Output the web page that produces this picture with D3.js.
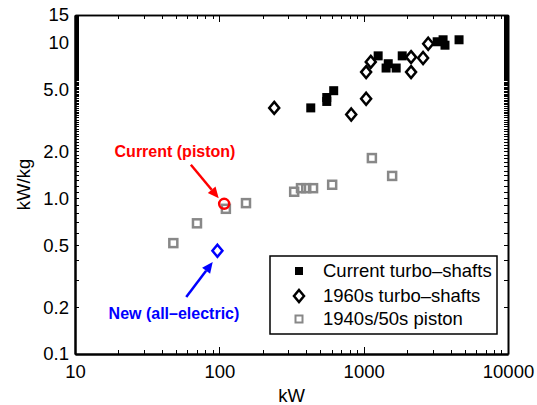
<!DOCTYPE html>
<html>
<head>
<meta charset="utf-8">
<script src="https://cdn.jsdelivr.net/npm/d3@7"></script>
<style>
  body { margin: 0; background: #fff; }
  text { font-family: "Liberation Sans", Arial, Helvetica, sans-serif; }
</style>
</head>
<body>
<svg id="chart" width="537" height="405"></svg>
<script>
(function() {

  // [kW, kW/kg]
  var currentTurbo = [
    [430, 3.8], [555, 4.43], [555, 4.18], [620, 4.9], [1260, 8.2],
    [1430, 6.85], [1480, 7.3], [1680, 6.85], [1850, 8.2],
    [3230, 10.1], [3550, 10.4], [3660, 9.6], [4580, 10.4]
  ]
  var turbo1960s = [
    [240, 3.8], [820, 3.45], [1040, 4.35], [1040, 6.45], [1120, 7.5],
    [2130, 8.05], [2130, 6.45], [2580, 7.95], [2800, 9.8]
  ]
  var piston1940s = [
    [48, 0.515], [70, 0.69], [111, 0.855], [153, 0.93], [330, 1.1],
    [368, 1.16], [400, 1.16], [446, 1.16], [605, 1.22], [1140, 1.81], [1575, 1.39]
  ]
  var currentPiston = [108, 0.92]
  var newElectric = [97, 0.46]

  var xTickValues = [10, 100, 1000, 10000]
  var xTickLabels = ['10', '100', '1000', '10000']
  var yTickValues = [0.1, 0.2, 0.5, 1, 2, 5, 10, 15]
  var yTickLabels = ['0.1', '0.2', '0.5', '1.0', '2.0', '5.0', '10', '15']
  var legendNames = ['Current turbo\u2013shafts', '1960s turbo\u2013shafts', '1940s/50s piston']

  // annotations: label position, arrow tail, arrow head (data units)
  var notes = [
    { text: 'Current (piston)', color: '#ff0000', label: [49.3, 2.0], from: [63.5, 1.64], to: [99, 1.0] },
    { text: 'New (all\u2013electric)', color: '#0000ff', label: [48.5, 0.183], from: [59, 0.232], to: [90, 0.39] }
  ]

  var left = 75, right = 508, top = 15, bottom = 354

  var svg = d3.select('#chart')

  var x = d3.scaleLog().domain([10, 10000]).range([left, right])
  var y = d3.scaleLog().domain([0.1, 15]).range([bottom, top])

  // minor ticks: every integer step in each decade for x, every 0.1 for y
  var xMinor = []
  xTickValues.slice(0, 3).forEach(function(p) {
    for (var i = 2; i < 10; i++) xMinor.push(p * i)
  })
  var yMinor = d3.range(1, 151).map(function(i) { return i / 10 })

  function styleAxis(g, width) {
    g.select('.domain').attr('stroke', '#000').attr('stroke-width', width)
    g.selectAll('.tick line').attr('stroke', '#000').attr('stroke-width', 1)
      .attr('shape-rendering', 'crispEdges')
    g.selectAll('text').attr('fill', '#000').attr('font-size', '18.5px')
  }

  // bottom
  svg.append('g').attr('transform', 'translate(0,' + bottom + ')')
    .call(d3.axisBottom(x).tickValues(xMinor).tickSizeInner(-4).tickSizeOuter(0).tickFormat(''))
    .call(function(g) { styleAxis(g, 2) })
  svg.append('g').attr('transform', 'translate(0,' + bottom + ')')
    .call(d3.axisBottom(x).tickValues(xTickValues).tickSizeInner(-7).tickSizeOuter(0)
      .tickPadding(11).tickFormat(function(d, i) { return xTickLabels[i] }))
    .call(function(g) { styleAxis(g, 2) })

  // top
  svg.append('g').attr('transform', 'translate(0,' + top + ')')
    .call(d3.axisTop(x).tickValues(xMinor).tickSizeInner(-4).tickSizeOuter(0).tickFormat(''))
    .call(function(g) { styleAxis(g, 1.5) })
  svg.append('g').attr('transform', 'translate(0,' + top + ')')
    .call(d3.axisTop(x).tickValues(xTickValues).tickSizeInner(-7).tickSizeOuter(0).tickFormat(''))
    .call(function(g) { styleAxis(g, 1.5) })

  // left
  svg.append('g').attr('transform', 'translate(' + left + ',0)')
    .call(d3.axisLeft(y).tickValues(yMinor).tickSizeInner(-4).tickSizeOuter(0).tickFormat(''))
    .call(function(g) { styleAxis(g, 2) })
  svg.append('g').attr('transform', 'translate(' + left + ',0)')
    .call(d3.axisLeft(y).tickValues(yTickValues).tickSizeInner(0).tickSizeOuter(0)
      .tickPadding(6).tickFormat(function(d, i) { return yTickLabels[i] }))
    .call(function(g) { styleAxis(g, 2) })

  // right
  svg.append('g').attr('transform', 'translate(' + right + ',0)')
    .call(d3.axisRight(y).tickValues(yMinor).tickSizeInner(-4).tickSizeOuter(0).tickFormat(''))
    .call(function(g) { styleAxis(g, 2) })

  // axis titles
  svg.append('text')
    .attr('transform', 'translate(24,' + ((top + bottom) / 2) + ') rotate(-90)')
    .attr('text-anchor', 'middle').attr('dy', '0.35em')
    .attr('font-size', '18.5px')
    .text('kW/kg')
  svg.append('text')
    .attr('x', (left + right) / 2).attr('y', 402)
    .attr('text-anchor', 'middle')
    .attr('font-size', '18.5px')
    .text('kW')

  var diamond = function(w, h) {
    return 'M0,' + (-h) + 'L' + w + ',0L0,' + h + 'L' + (-w) + ',0Z'
  }

  // 1940s/50s piston
  svg.append('g').selectAll('rect')
    .data(piston1940s)
    .enter().append('rect')
    .attr('x', function(d) { return x(d[0]) - 4 })
    .attr('y', function(d) { return y(d[1]) - 4 })
    .attr('width', 8).attr('height', 8)
    .attr('fill', 'none')
    .attr('stroke', '#888')
    .attr('stroke-width', 2.5)

  // current turbo-shafts
  svg.append('g').selectAll('rect')
    .data(currentTurbo)
    .enter().append('rect')
    .attr('x', function(d) { return x(d[0]) - 4.5 })
    .attr('y', function(d) { return y(d[1]) - 4.5 })
    .attr('width', 9).attr('height', 9)
    .attr('fill', '#000')

  // 1960s turbo-shafts
  svg.append('g').selectAll('path')
    .data(turbo1960s)
    .enter().append('path')
    .attr('transform', function(d) { return 'translate(' + x(d[0]) + ',' + y(d[1]) + ')' })
    .attr('d', diamond(5, 6))
    .attr('fill', 'none')
    .attr('stroke', '#000')
    .attr('stroke-width', 2.5)

  // current piston and the new engine
  svg.append('circle')
    .attr('cx', x(currentPiston[0])).attr('cy', y(currentPiston[1]))
    .attr('r', 5)
    .attr('fill', 'none')
    .attr('stroke', '#ff0000')
    .attr('stroke-width', 2.5)
  svg.append('path')
    .attr('transform', 'translate(' + x(newElectric[0]) + ',' + y(newElectric[1]) + ')')
    .attr('d', diamond(5, 6))
    .attr('fill', 'none')
    .attr('stroke', '#0000ff')
    .attr('stroke-width', 2.5)

  // annotations with arrows
  notes.forEach(function(n) {
    var x0 = x(n.from[0]), y0 = y(n.from[1])
    var x1 = x(n.to[0]), y1 = y(n.to[1])
    var a = Math.atan2(y1 - y0, x1 - x0)
    var len = 11, half = 5
    var bx = x1 - len * Math.cos(a), by = y1 - len * Math.sin(a)
    svg.append('line')
      .attr('x1', x0).attr('y1', y0).attr('x2', bx).attr('y2', by)
      .attr('stroke', n.color).attr('stroke-width', 2.5)
    svg.append('path')
      .attr('d', 'M' + x1 + ',' + y1 +
        'L' + (bx + half * Math.sin(a)) + ',' + (by - half * Math.cos(a)) +
        'L' + (bx - half * Math.sin(a)) + ',' + (by + half * Math.cos(a)) + 'Z')
      .attr('fill', n.color)
    svg.append('text')
      .attr('x', x(n.label[0])).attr('y', y(n.label[1]))
      .attr('dy', '0.35em')
      .attr('text-anchor', 'middle')
      .attr('font-size', '16px').attr('font-weight', 'bold')
      .attr('fill', n.color)
      .text(n.text)
  })

  // legend
  var legend = svg.append('g')
  legend.append('rect')
    .attr('x', 270).attr('y', 256).attr('width', 227).attr('height', 78)
    .attr('fill', '#fff').attr('stroke', '#000').attr('stroke-width', 1.5)
  var rowY = [271, 296, 319]
  legend.append('rect')
    .attr('x', 295).attr('y', rowY[0] - 4).attr('width', 8).attr('height', 8)
    .attr('fill', '#000')
  legend.append('path')
    .attr('transform', 'translate(299,' + rowY[1] + ')')
    .attr('d', diamond(5, 6))
    .attr('fill', 'none').attr('stroke', '#000').attr('stroke-width', 2.5)
  legend.append('rect')
    .attr('x', 295.5).attr('y', rowY[2] - 3.5).attr('width', 7).attr('height', 7)
    .attr('fill', 'none').attr('stroke', '#888').attr('stroke-width', 2)
  legend.selectAll('text')
    .data(legendNames)
    .enter().append('text')
    .attr('x', 323)
    .attr('y', function(d, i) { return rowY[i] })
    .attr('dy', '0.35em')
    .attr('font-size', '18.5px')
    .text(function(d) { return d })

})()
</script>
</body>
</html>
